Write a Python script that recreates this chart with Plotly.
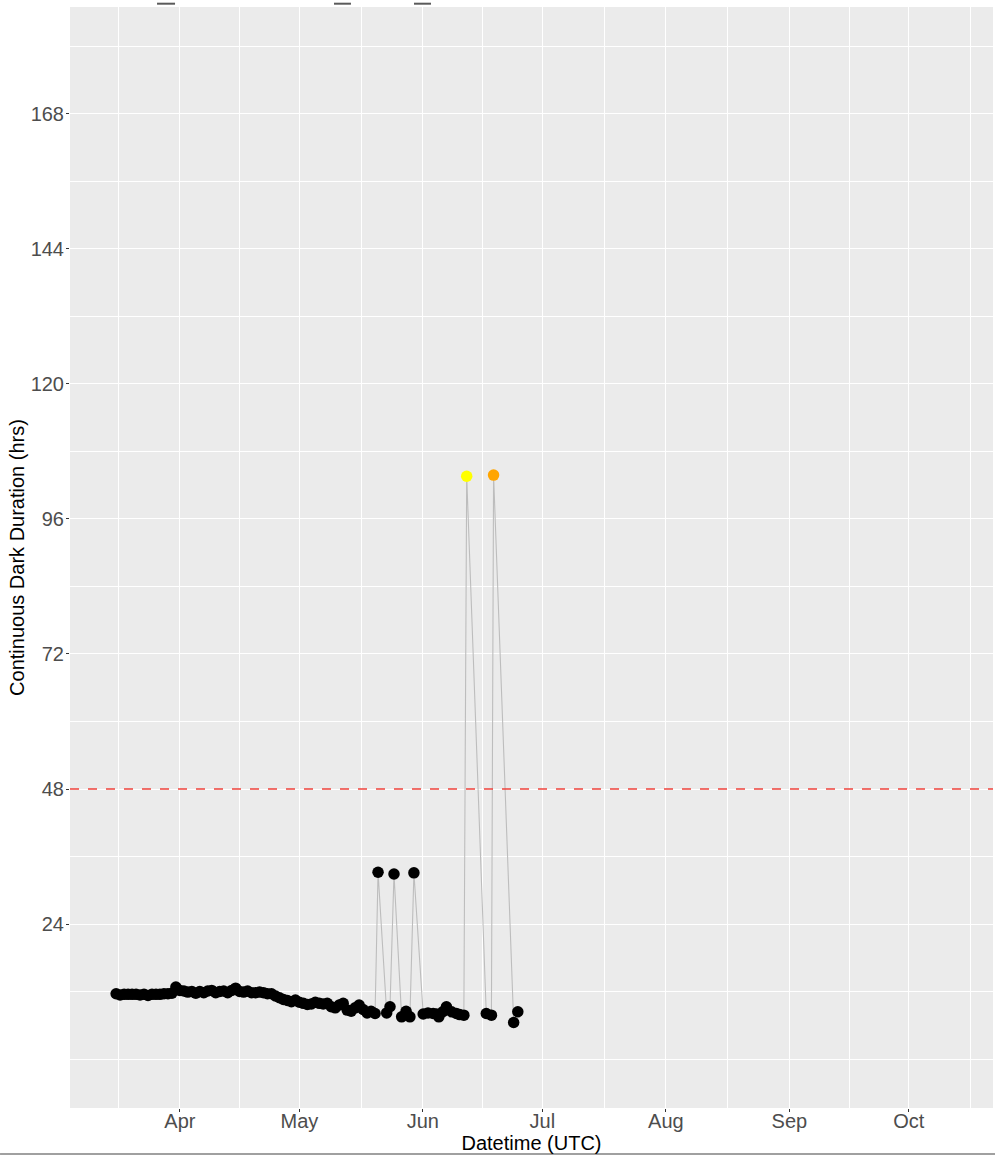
import plotly.graph_objects as go
import pandas as pd

# Nightly continuous-dark durations (hours), start time of each dark period (UTC)
daily_start = "2023-03-16"
daily_hours = [
    11.6, 11.4, 11.5, 11.5, 11.5, 11.5, 11.4, 11.5, 11.3, 11.5, 11.5, 11.5, 11.6, 11.6, 11.7, 12.8,  # Mar 16-31
    12.2, 12.1, 11.9, 12.0, 11.7, 12.0, 11.8, 12.1, 12.2, 11.8, 12.0, 12.1, 11.8, 12.2, 12.6,        # Apr 1-15
    12.0, 11.9, 12.1, 11.8, 11.8, 11.9, 11.8, 11.6, 11.6, 11.2, 10.9, 10.6, 10.4, 10.2, 10.5,        # Apr 16-30
    10.1, 9.9, 9.7, 9.8, 10.1, 9.9, 9.8, 9.9, 9.3, 9.1, 9.6, 9.9, 8.7, 8.5, 9.1, 9.6, 8.8, 8.2,       # May 1-18
    8.5, 8.1,                                                                                         # May 19-20
]

later_times = [
    "2023-05-20 18:00", "2023-05-22 22:00", "2023-05-23 18:00", "2023-05-24 18:00",
    "2023-05-26 16:00", "2023-05-27 19:00", "2023-05-28 18:00", "2023-05-29 18:00",
    "2023-06-01 02:00", "2023-06-02 07:00", "2023-06-03 14:00", "2023-06-04 10:00",
    "2023-06-05 00:00", "2023-06-06 00:00", "2023-06-06 22:00", "2023-06-08 05:00",
    "2023-06-09 10:00", "2023-06-10 06:00", "2023-06-11 07:00", "2023-06-12 00:00",
    "2023-06-16 22:00", "2023-06-18 05:00", "2023-06-18 18:00", "2023-06-23 19:00",
    "2023-06-24 20:00",
]
later_hours = [
    33.2, 8.2, 9.3, 32.9,
    7.5, 8.5, 7.5, 33.1,
    8.0, 8.2, 8.1, 8.0,
    7.5, 8.4, 9.3, 8.4,
    8.1, 7.9, 7.8, 103.6,
    8.1, 7.8, 103.8, 6.5,
    8.4,
]
# Events longer than 96 h are highlighted in order of occurrence
long_event_colors = ["#FFFF00", "#FFA500"]

threshold_hours = 48
y_ticks = [24, 48, 72, 96, 120, 144, 168]
y_minor = [0, 12, 36, 60, 84, 108, 132, 156, 180]
x_minor = ["2023-03-16 12:00", "2023-04-16", "2023-05-16 12:00", "2023-06-16",
           "2023-07-16 12:00", "2023-08-16 12:00", "2023-09-16", "2023-10-16 12:00"]

daily_times = list(pd.date_range(daily_start, periods=len(daily_hours), freq="D"))
times = daily_times + list(pd.to_datetime(later_times))
hours = daily_hours + later_hours

colors = []
k = 0
for h in hours:
    if h > 96:
        colors.append(long_event_colors[k])
        k += 1
    else:
        colors.append("black")

FONT = "Liberation Sans, Arial, sans-serif"

fig = go.Figure()
fig.add_trace(go.Scatter(
    x=times, y=hours, mode="lines",
    line=dict(color="#BDBDBD", width=1.1),
    hoverinfo="skip", showlegend=False,
))
fig.add_trace(go.Scatter(
    x=times, y=hours, mode="markers",
    marker=dict(color=colors, size=11.5, line=dict(width=0)),
    showlegend=False,
))
fig.add_hline(y=threshold_hours, line=dict(color="#F0433D", width=1.7, dash="dash"))

# Partial legend keys along the top edge
for x0, x1 in [(0.0943, 0.1138), (0.2860, 0.3044), (0.3727, 0.3911)]:
    fig.add_shape(type="line", xref="paper", yref="paper", x0=x0, x1=x1,
                  y0=1.003, y1=1.003, line=dict(color="#5A5A5A", width=2))
# Rule under the figure
fig.add_shape(type="line", xref="paper", yref="paper", x0=-0.0758, x1=1.0022,
              y0=-0.0418, y1=-0.0418, line=dict(color="#A0A0A0", width=2))

fig.update_layout(
    width=995, height=1156,
    margin=dict(l=70, r=2, t=7, b=48),
    paper_bgcolor="white", plot_bgcolor="#EBEBEB",
    font=dict(family=FONT, size=20, color="#4D4D4D"),
    xaxis=dict(
        type="date",
        range=["2023-03-04 10:00", "2023-10-22 03:00"],
        dtick="M1", tick0="2023-04-01", tickformat="%b",
        ticks="outside", ticklen=3, tickcolor="#333333", tickwidth=1,
        ticklabelstandoff=-8,
        showgrid=True, gridcolor="white", gridwidth=1.4,
        minor=dict(tickvals=x_minor, showgrid=True, gridcolor="white", gridwidth=0.7, ticks=""),
        zeroline=False, showline=False,
        title=dict(text="Datetime (UTC)", font=dict(family=FONT, size=20, color="black"), standoff=0),
        tickfont=dict(family=FONT, size=20, color="#4D4D4D"),
    ),
    yaxis=dict(
        range=[-8.7, 187.0],
        tickvals=y_ticks,
        ticks="outside", ticklen=3, tickcolor="#333333", tickwidth=1,
        ticklabelstandoff=-2,
        showgrid=True, gridcolor="white", gridwidth=1.4,
        minor=dict(tickvals=y_minor, showgrid=True, gridcolor="white", gridwidth=0.7, ticks=""),
        zeroline=False, showline=False,
        title=dict(text="Continuous Dark Duration (hrs)", font=dict(family=FONT, size=20, color="black"), standoff=0),
        tickfont=dict(family=FONT, size=20, color="#4D4D4D"),
    ),
)

fig.write_html("out.html")
